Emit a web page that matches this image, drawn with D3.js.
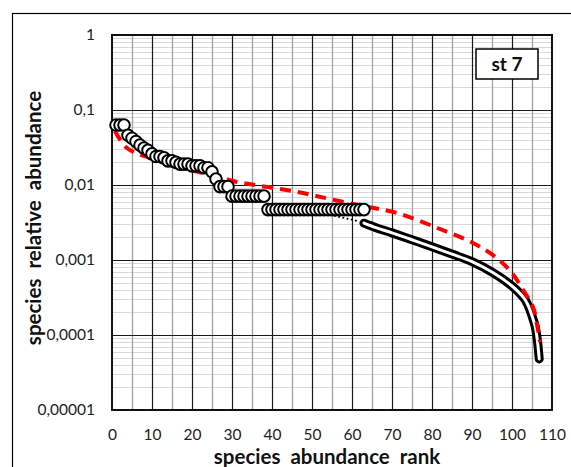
<!DOCTYPE html>
<html><head><meta charset="utf-8">
<script src="https://cdn.jsdelivr.net/npm/d3@7"></script>
<style>
html,body{margin:0;padding:0;background:#fff;}
text{font-family:Lato,"Open Sans",sans-serif;}
</style></head>
<body>
<svg id="chart" width="571" height="467"></svg>
<script>
// ---- data ----
const ranks = d3.range(1, 64);
const abundance = [
  0.063,0.063,0.063,0.046,0.042,0.038,0.034,0.031,0.029,0.026,
  0.024,0.024,0.023,0.021,0.021,0.020,0.019,0.019,0.019,0.018,
  0.018,0.018,0.017,0.017,0.015,0.012,0.0095,0.0095,0.0095,
  0.0071,0.0071,0.0071,0.0071,0.0071,0.0071,0.0071,0.0071,0.0071,
  0.0047,0.0047,0.0047,0.0047,0.0047,0.0047,0.0047,0.0047,0.0047,0.0047,
  0.0047,0.0047,0.0047,0.0047,0.0047,0.0047,0.0047,0.0047,0.0047,0.0047,
  0.0047,0.0047,0.0047,0.0047,0.0047
];
const fitRanks = [63,66,70,75,80,85,90,95,100,103,104,105,105.8,106.4,106.8];
const fitValues = [0.0031,0.0027,0.0023,0.00186,0.0015,0.0012,0.00095,0.00069,0.00045,0.00031,0.00025,0.00018,0.00013,0.00008,0.000048];
const dotRanks = [55.5,61.5];
const dotValues = [0.0039,0.0033];
const modelRanks = [0.75,3.75,10.25,19.5,26.25,30.25,46.25,54.5,62.75,71.25,82,90.25,96.25,100,102.75,105.25,106.5,107];
const modelValues = [0.0525,0.0311,0.0222,0.0158,0.0132,0.0113,0.0081,0.0065,0.00525,0.00423,0.00259,0.00169,0.00106,0.00067,0.0004,0.000236,0.000117,0.0000807];
const xTicks = [0,10,20,30,40,50,60,70,80,90,100,110];
const yTicks = [0.00001,0.0001,0.001,0.01,0.1,1];
const yTickLabels = ["0,00001","0,0001","0,001","0,01","0,1","1"];
const xTitle = "species\u00a0\u00a0abundance\u00a0\u00a0rank";
const yTitle = "species\u00a0\u00a0relative\u00a0\u00a0abundance";
const panelLabel = "st 7";

// ---- layout ----
const svg = d3.select("#chart");
const L = 112, R = 552, T = 35, B = 410;
const x = d3.scaleLinear().domain([0,110]).range([L,R]);
const y = d3.scaleLog().domain([1e-5,1]).range([B,T]);

// outer frame
svg.append("rect").attr("x",12.5).attr("y",13.5).attr("width",620).attr("height",500)
  .attr("fill","none").attr("stroke","#000").attr("stroke-width",1.2);

const g = svg.append("g");
const minorY = [];
for (let e=-5;e<0;e++) for (let m=2;m<=9;m++) minorY.push(m*Math.pow(10,e));
g.selectAll(".hmin").data(minorY).join("line")
  .attr("x1",L).attr("x2",R).attr("y1",d=>Math.round(y(d))+0.5).attr("y2",d=>Math.round(y(d))+0.5)
  .attr("stroke","#d9d9d9").attr("stroke-width",1.2);
g.selectAll(".vgrid").data(d3.range(5,110,5)).join("line")
  .attr("x1",d=>Math.round(x(d))+0.5).attr("x2",d=>Math.round(x(d))+0.5).attr("y1",T).attr("y2",B)
  .attr("stroke",d=>d%10===0?"#1a1a1a":"#a6a6a6").attr("stroke-width",d=>d%10===0?1.2:1.4);
g.selectAll(".hmaj").data(yTicks).join("line")
  .attr("x1",L).attr("x2",R).attr("y1",d=>Math.round(y(d))+0.5).attr("y2",d=>Math.round(y(d))+0.5)
  .attr("stroke","#1a1a1a").attr("stroke-width",1.2);
svg.append("rect").attr("x",L).attr("y",T).attr("width",R-L).attr("height",B-T)
  .attr("fill","none").attr("stroke","#111").attr("stroke-width",2);

// axes
const ya = svg.append("g").attr("transform",`translate(${L-17},0)`)
  .call(d3.axisLeft(y).tickValues(yTicks).tickFormat((d,i)=>yTickLabels[i]).tickSize(0).tickPadding(0));
ya.select(".domain").remove();
ya.selectAll("text").attr("font-family","Lato, sans-serif").attr("font-size",15.5).attr("fill","#222");
const xa = svg.append("g").attr("transform",`translate(0,${B+19})`)
  .call(d3.axisBottom(x).tickValues(xTicks).tickFormat(d=>String(d)).tickSize(0).tickPadding(0));
xa.select(".domain").remove();
xa.selectAll("text").attr("font-family","Lato, sans-serif").attr("font-size",15.5).attr("fill","#222");

// titles
svg.append("text").attr("x",327).attr("y",464).attr("text-anchor","middle")
  .attr("font-size",20.5).attr("font-weight","bold").attr("fill","#111").text(xTitle);
svg.append("text").attr("transform","translate(41,218) rotate(-90)").attr("text-anchor","middle")
  .attr("font-size",20.5).attr("font-weight","bold").attr("fill","#111").text(yTitle);

// fitted line (double line)
const fit = fitRanks.map((r,i)=>[r,fitValues[i]]);
const line = d3.line().x(d=>x(d[0])).y(d=>y(d[1])).curve(d3.curveCatmullRom.alpha(0.5));
svg.append("path").attr("d",line(fit)).attr("fill","none").attr("stroke","#000")
  .attr("stroke-width",9).attr("stroke-linecap","round").attr("stroke-linejoin","round");
svg.append("path").attr("d",line(fit)).attr("fill","none").attr("stroke","#fff")
  .attr("stroke-width",3).attr("stroke-linecap","round").attr("stroke-linejoin","round");
svg.append("path").attr("d",line(dotRanks.map((r,i)=>[r,dotValues[i]]))).attr("fill","none")
  .attr("stroke","#000").attr("stroke-width",1.8).attr("stroke-dasharray","1.8,2.5");

// model red dashed line
const model = modelRanks.map((r,i)=>[r,modelValues[i]]);
svg.append("path").attr("d",d3.line().x(d=>x(d[0])).y(d=>y(d[1])).curve(d3.curveCatmullRom)(model))
  .attr("fill","none").attr("stroke","#ff0000").attr("stroke-width",4).attr("stroke-dasharray","11,7");

// observed circles
svg.selectAll(".pt").data(ranks.map((r,i)=>[r,abundance[i]])).join("circle")
  .attr("cx",d=>x(d[0])).attr("cy",d=>y(d[1])).attr("r",5.8)
  .attr("fill","#fff").attr("stroke","#000").attr("stroke-width",2);

// panel label
svg.append("rect").attr("x",476).attr("y",49).attr("width",62).attr("height",30)
  .attr("fill","#fff").attr("stroke","#000").attr("stroke-width",1.5);
svg.append("text").attr("x",507).attr("y",71).attr("text-anchor","middle")
  .attr("font-size",19).attr("font-weight","bold").attr("fill","#111").text(panelLabel);
</script>
</body></html>
